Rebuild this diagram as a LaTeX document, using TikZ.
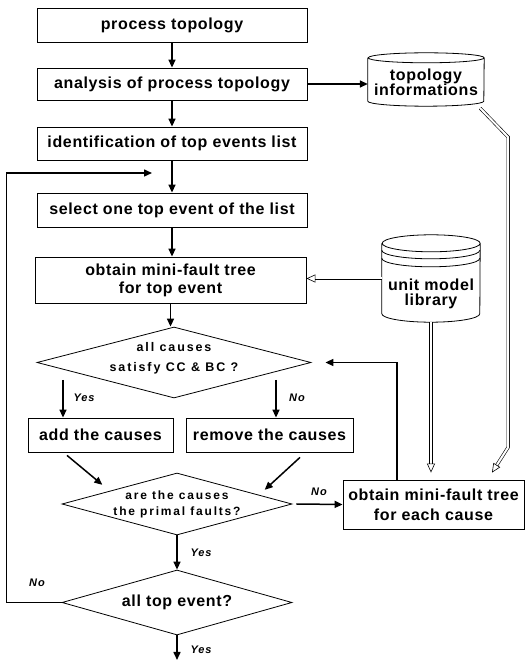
\documentclass[tikz,border=0pt]{standalone}
\usepackage{fontspec}
\usepackage{tikz}
\usetikzlibrary{shapes.geometric,arrows.meta}
\newfontfamily\boxfont[LetterSpace=4]{Liberation Sans}
\newfontfamily\decfont[LetterSpace=15]{Liberation Sans}
\newfontfamily\ynfont[LetterSpace=8]{Liberation Sans}

\begin{document}
\begin{tikzpicture}[x=1pt,y=1pt]
    \pgfmathsetmacro{\bw}{270}
    \tikzset{
        box/.style={draw, line width=0.8pt, minimum width=\bw, minimum height=34, inner sep=0pt, align=center,
            font=\boxfont\bfseries\fontsize{16}{18}\selectfont},
        dec/.style={draw, shape=diamond, line width=0.8pt, inner sep=0pt},
        store/.style={inner sep=0pt},
        lab/.style={align=center, font=\decfont\bfseries\fontsize{12.5}{20}\selectfont},
        big/.style={align=center, font=\boxfont\bfseries\fontsize{16}{15}\selectfont},
        yn/.style={font=\ynfont\bfseries\itshape\fontsize{11}{13}\selectfont},
        arr/.style={line width=1.5pt, -{Triangle[length=8pt,width=7pt]}},
        hol/.style={double, double distance=2pt, line width=0.6pt, -{Triangle[open,length=9pt,width=8pt]}}
    }
    \fill[white] (0,0) rectangle (529,662);
    \useasboundingbox (0,0) rectangle (529,662);

    % main column
    \node[box] (top) at (172,637) {process topology};
    \node[box, minimum height=32] (anal) at (172,578) {analysis of process topology};
    \node[box, minimum height=33] (ident) at (172,518.5) {identification of top events list};
    \node[box] (sel) at (172,452) {select one top event of the list};
    \node[box, minimum width=271, minimum height=46] (obt) at (170.5,382) {obtain mini-fault tree\\for top event};
    \node[dec, minimum width=274, minimum height=71,
        label={[lab, yshift=4]center:{all causes\\satisfy CC \& BC ?}}] (d1) at (174,299.5) {};
    \node[box, minimum width=145] (add) at (100.5,227) {add the causes};
    \node[box, minimum width=167] (rem) at (269.5,227) {remove the causes};
    \node[dec, minimum width=230, minimum height=62,
        label={[lab, font=\decfont\bfseries\fontsize{12}{16}\selectfont]center:{are the causes\\the primal faults?}}] (d2) at (177,158) {};
    \node[dec, minimum width=230, minimum height=65, label={[big]center:{all top event?}}] (d3) at (177,59.5) {};
    \node[box, minimum width=181, minimum height=49, font=\boxfont\bfseries\fontsize{16}{20}\selectfont]
        (each) at (433.5,157.5) {obtain mini-fault tree\\for each cause};

    % stores
    \node[store, minimum width=116, minimum height=53, label={[big, yshift=-3]center:{topology\\informations}}] (info) at (426,582.5) {};
    \node[store, minimum width=98, minimum height=87, label={[big, yshift=-15]center:{unit model\\library}}] (lib) at (431,383.5) {};
    \draw[line width=0.8pt] ([yshift=-5]info.north west) -- ([yshift=5]info.south west)
        arc[start angle=180, end angle=360, x radius=58, y radius=5] -- ([yshift=-5]info.north east)
        arc[start angle=0, end angle=360, x radius=58, y radius=5];
    \draw[line width=0.8pt] ([yshift=-8.5]lib.north west) -- ([yshift=8.5]lib.south west)
        arc[start angle=180, end angle=360, x radius=49, y radius=8.5] -- ([yshift=-8.5]lib.north east)
        arc[start angle=0, end angle=360, x radius=49, y radius=8.5];
    \foreach \d in {7,15}
        \draw[line width=0.8pt] ([yshift={-8.5-\d}]lib.north west) arc[start angle=180, end angle=360, x radius=49, y radius=8.5];

    % free ends
    \coordinate (yes1) at (63,282);
    \coordinate (no1) at (276,282);
    \coordinate (back) at (152,489);
    \coordinate (fin) at (177,2);

    % labels
    \node[yn] (ly1) at (84,264) {Yes};
    \node[yn] (ln1) at (297,264) {No};
    \node[yn] (ln2) at (319,170) {No};
    \node[yn] (ly2) at (201,109) {Yes};
    \node[yn] (ln3) at (37,79) {No};
    \node[yn] (ly3) at (201,12) {Yes};

    % connectors
    \foreach \a/\b in {top/anal, anal/ident, ident/sel, sel/obt, obt/d1, d2/d3}
        \draw[arr] (\a.south) -- (\a.south |- \b.north);
    \draw[arr] (anal.east) -- (anal.east -| info.west);
    \draw[arr] (yes1) -- (yes1 |- add.north);
    \draw[arr] (no1) -- (no1 |- rem.north);
    \draw[arr] ([shift={(-33.5,-3)}]add.south) -- ([shift={(-17,3.5)}]d2.north west);
    \draw[arr] ([shift={(30.5,-5)}]rem.south) -- ([shift={(30,-1.5)}]d2.north east);
    \draw[arr] ([xshift=4]d2.east) -- (each.west);
    \draw[arr] (d3.south) -- (fin);
    \draw[arr] (d3.west) -- ++(-55,0) |- (back);
    \draw[arr] ([xshift=-36.5]each.north) |- ([xshift=14]d1.east);
    \draw[hol] (lib.west) -- (lib.west -| obt.east);
    \draw[hol, shorten >=7] (lib.south) -- (lib.south |- each.north);
    \draw[hol] ([shift={(-4,-2)}]info.south east) -- ++(28,-29) -- ++(0,-310) -- ([shift={(58.5,7)}]each.north);
\end{tikzpicture}
\end{document}
